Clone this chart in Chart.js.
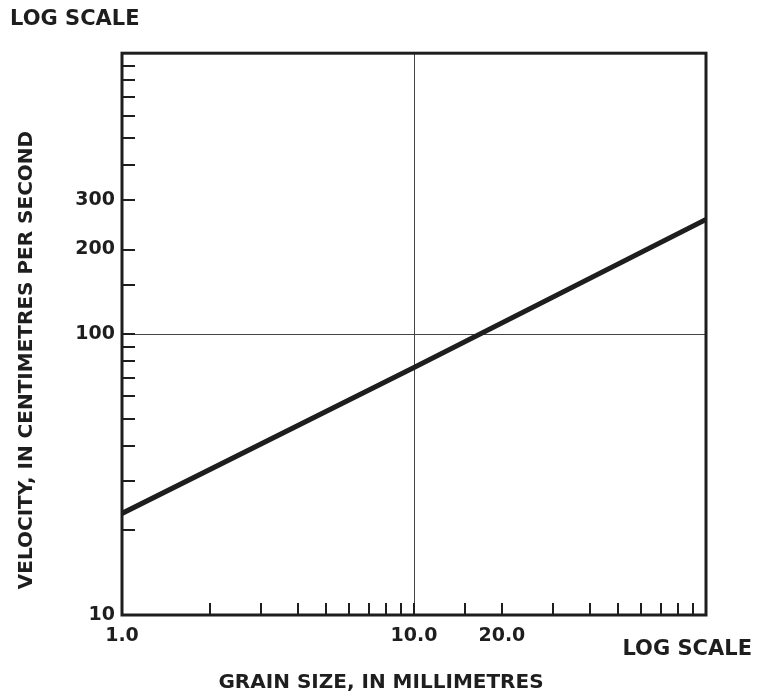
<!DOCTYPE html>
<html>
<head>
<meta charset="utf-8">
<script src="https://cdn.jsdelivr.net/npm/chart.js@4"></script>
<style>
  body { margin: 0; background: #fff; }
  #wrap { width: 757px; height: 695px; }
</style>
</head>
<body>
<div id="wrap"><canvas id="grain"></canvas></div>
<script>
// grain size (mm) vs velocity (cm/s), both log
const grainSize = [1, 10, 100]
const velocity = [23, 76, 256]
const xTickLabels = [1, 10, 20]
const yTickLabels = [10, 100, 200, 300]

const ink = '#1e1e1e'
const titleFont = 'bold 20px "DejaVu Sans"'
const noteFont = 'bold 21px "DejaVu Sans"'

const points = grainSize.map((g, i) => ({ x: g, y: velocity[i] }))

// inward tick marks, box frame and the loose texts
const sketch = {
  id: 'sketch',
  afterDraw(chart) {
    const { ctx, chartArea: a, scales } = chart
    ctx.save()
    ctx.strokeStyle = ink
    ctx.lineWidth = 2
    scales.x.ticks.forEach(t => {
      if (t.value <= scales.x.min || t.value >= scales.x.max) return
      const px = Math.round(scales.x.getPixelForValue(t.value))
      ctx.beginPath()
      ctx.moveTo(px, a.bottom)
      ctx.lineTo(px, a.bottom - 12)
      ctx.stroke()
    })
    scales.y.ticks.forEach(t => {
      if (t.value <= scales.y.min || t.value >= scales.y.max) return
      const py = Math.round(scales.y.getPixelForValue(t.value))
      ctx.beginPath()
      ctx.moveTo(a.left, py)
      ctx.lineTo(a.left + 13, py)
      ctx.stroke()
    })
    ctx.lineWidth = 3
    ctx.strokeRect(a.left, a.top, a.right - a.left, a.bottom - a.top)

    ctx.fillStyle = ink
    ctx.textBaseline = 'middle'
    ctx.font = noteFont
    ctx.textAlign = 'right'
    ctx.fillText('LOG SCALE', 752, 650)
    ctx.font = titleFont
    ctx.textAlign = 'center'
    ctx.fillText('GRAIN SIZE, IN MILLIMETRES', 381, 683)
    ctx.translate(27, 360)
    ctx.rotate(-Math.PI / 2)
    ctx.fillText('VELOCITY, IN CENTIMETRES PER SECOND', 0, 0)
    ctx.restore()
  }
}

new Chart(document.getElementById('grain'), {
  type: 'line',
  data: {
    datasets: [{
      data: points,
      borderColor: ink,
      borderWidth: 5,
      pointRadius: 0,
      tension: 0
    }]
  },
  options: {
    responsive: true,
    maintainAspectRatio: false,
    animation: false,
    layout: { padding: { left: 10, right: 51, top: 0, bottom: 0 } },
    plugins: {
      legend: { display: false },
      tooltip: { enabled: false },
      title: {
        display: true,
        text: 'LOG SCALE',
        align: 'start',
        color: ink,
        font: { family: 'DejaVu Sans', size: 21, weight: 'bold' },
        padding: { top: 7, bottom: 21 }
      }
    },
    scales: {
      x: {
        type: 'logarithmic',
        min: 1,
        max: 100,
        border: { display: false },
        grid: {
          drawTicks: false,
          lineWidth: 1,
          color: c => (c.tick && c.tick.value === 10 ? '#444' : 'transparent')
        },
        ticks: {
          autoSkip: false,
          maxRotation: 0,
          padding: 10,
          color: ink,
          font: { family: 'DejaVu Sans', size: 19, weight: 'bold' },
          callback: v => (xTickLabels.includes(v) ? v.toFixed(1) : '')
        },
        afterFit: s => { s.height = 80 }
      },
      y: {
        type: 'logarithmic',
        min: 10,
        max: 1000,
        border: { display: false },
        grid: {
          drawTicks: false,
          lineWidth: 1,
          color: c => (c.tick && c.tick.value === 100 ? '#444' : 'transparent')
        },
        ticks: {
          autoSkip: false,
          padding: 7,
          color: ink,
          font: { family: 'DejaVu Sans', size: 19, weight: 'bold' },
          callback: v => (yTickLabels.includes(v) ? String(v) : '')
        },
        afterFit: s => { s.width = 112 }
      }
    }
  },
  plugins: [sketch]
})
</script>
</body>
</html>
